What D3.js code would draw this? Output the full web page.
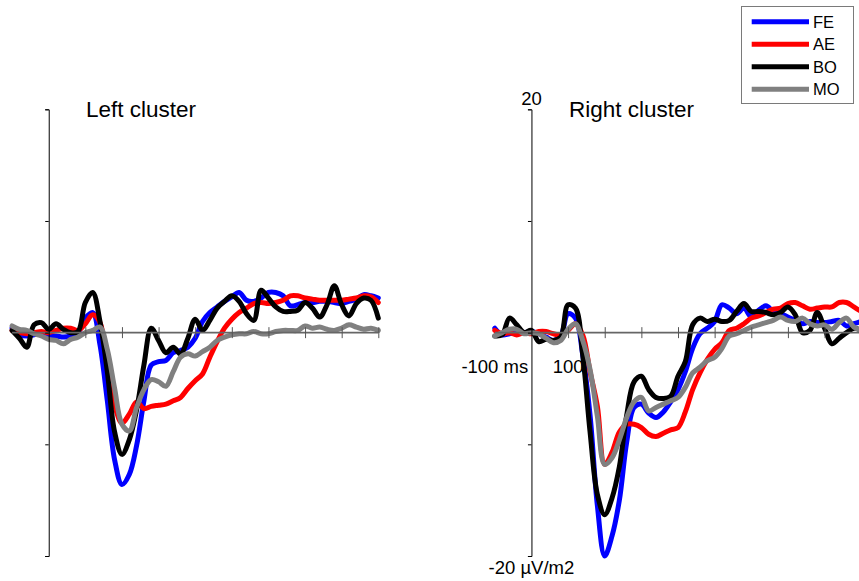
<!DOCTYPE html>
<html lang="en">
<head>
<meta charset="UTF-8" />
<title>Left / right cluster</title>
<style>
  body { margin: 0; background: #fff; }
  svg { display: block; font-family: "Liberation Sans", Arial, sans-serif; }
  .trace { fill: none; stroke-width: 5px; stroke-linejoin: round; stroke-linecap: round; }
  .zero-line { stroke: #666; stroke-width: 1.6px; }
  .x-ticks line { stroke: #555; stroke-width: 1px; }
  .y-axis path, .y-axis line { stroke: #000; stroke-width: 1px; }
  .tick-label { font-size: 18.5px; fill: #000; }
  .panel-title { font-size: 22.5px; fill: #000; }
  .legend text { font-size: 16.5px; fill: #000; }
</style>
</head>
<body>
<svg id="chart" width="859" height="581"></svg>
<script src="https://d3js.org/d3.v7.min.js"></script>
<script>
// sampling grid of the averaged waveforms, in ms
const times = d3.range(-100, 901, 20);

const conditions = ["FE", "AE", "BO", "MO"];
const colors = ["#0000ff", "#ff0000", "#000000", "#808080"];

// µV/m2, left cluster
const leftFE = [0.4, -0.2, -0.3, -0.2, -0.1, -0.3, -0.3, -0.4, -0.3, 0.0,
  1.3, 1.8, -1.1, -6.1, -11.4, -13.6, -12.7, -10.1, -6.1, -2.9,
  -2.6, -2.5, -1.8, -1.6, -1.3, -0.5, 1.0, 1.8, 2.3, 2.8,
  3.2, 3.6, 2.9, 2.8, 3.1, 3.6, 3.6, 3.3, 2.4, 2.5,
  2.7, 2.7, 2.8, 2.8, 2.7, 2.6, 2.8, 3.0, 3.4, 3.3,
  3.1];
const leftAE = [0.2, 0.0, -0.1, 0.0, 0.1, 0.0, 0.2, 0.4, 0.4, 0.2,
  0.8, 1.6, 0.9, -3.0, -6.5, -8.1, -7.3, -6.2, -6.8, -6.6,
  -6.5, -6.4, -6.1, -5.8, -5.0, -4.3, -3.7, -2.2, -0.8, 0.4,
  1.2, 1.8, 2.2, 2.6, 2.7, 2.6, 2.7, 2.9, 3.3, 3.3,
  3.1, 3.0, 2.9, 2.9, 2.9, 2.9, 3.0, 3.1, 3.3, 3.2,
  2.7];
const leftBO = [0.2, -0.5, -1.3, 0.7, 0.9, 0.3, 0.8, 0.3, 0.0, 0.1,
  2.7, 3.6, 1.0, -3.5, -8.9, -10.9, -9.6, -6.9, -2.9, 0.4,
  -0.7, -1.8, -1.3, -1.9, -0.5, 1.2, 0.2, 1.1, 2.2, 2.8,
  3.3, 2.8, 1.7, 1.1, 3.8, 3.1, 2.3, 1.9, 1.9, 2.0,
  2.7, 2.2, 1.4, 2.5, 4.2, 2.5, 1.5, 2.6, 3.1, 2.9,
  1.3];
const leftMO = [0.6, 0.3, 0.2, -0.1, -0.3, -0.6, -0.7, -1.0, -0.6, -0.4,
  0.0, 0.2, 0.5, -1.5, -5.0, -8.2, -8.8, -6.7, -5.1, -4.2,
  -4.4, -4.8, -3.5, -2.2, -1.9, -2.1, -1.7, -1.3, -0.7, -0.4,
  -0.2, -0.1, -0.1, 0.1, -0.1, -0.1, 0.1, 0.2, 0.2, 0.2,
  0.6, 0.4, 0.5, 0.3, 0.2, 0.4, 0.7, 0.5, 0.3, 0.4,
  0.2];

// µV/m2, right cluster
const rightFE = [0.4, -0.2, -0.1, 0.0, 0.0, 0.1, -0.1, -0.4, -0.7, -0.3,
  1.7, 1.3, -2.0, -7.4, -15.5, -20.0, -18.2, -15.0, -9.8, -6.7,
  -6.4, -7.2, -7.6, -7.1, -6.2, -5.1, -3.5, -1.4, -0.1, 0.4,
  1.0, 2.5, 2.2, 1.7, 2.2, 1.4, 2.0, 2.4, 1.9, 1.7,
  1.4, 1.1, 0.8, 1.0, 0.9, 0.9, 1.0, 1.1, 0.6, 0.8,
  1.0];
const rightAE = [0.2, -0.1, 0.0, -0.2, 0.0, -0.1, 0.1, 0.1, -0.1, -0.2,
  0.2, 0.8, -0.2, -3.5, -6.6, -11.8, -10.7, -8.9, -8.2, -8.2,
  -8.5, -9.1, -9.3, -9.0, -8.7, -8.5, -7.1, -5.1, -3.6, -2.4,
  -1.5, -0.9, 0.2, 0.4, 0.8, 1.3, 1.5, 1.8, 2.1, 2.2,
  2.6, 2.7, 2.4, 2.1, 2.2, 2.3, 2.3, 2.7, 2.7, 2.3,
  1.9];
const rightBO = [-0.3, -0.2, 1.3, 0.7, 0.0, 0.2, -0.8, -0.6, -0.7, -0.4,
  2.5, 2.2, -2.0, -8.9, -14.5, -16.3, -14.8, -12.0, -7.4, -4.4,
  -3.9, -5.1, -5.8, -5.9, -5.7, -3.9, -2.6, 0.7, 1.3, 1.0,
  1.2, 1.0, 1.1, 1.9, 2.6, 1.9, 1.9, 1.8, 1.6, 1.8,
  2.3, 1.6, 0.0, 0.2, 1.8, 0.4, -1.0, -0.5, 0.0, 0.4,
  0.2];
const rightMO = [-0.3, 0.0, 0.3, 0.3, -0.1, 0.0, -0.1, -0.5, -0.9, -0.7,
  0.3, 0.8, -0.7, -3.3, -7.5, -11.8, -11.2, -9.6, -7.6, -6.2,
  -5.8, -7.0, -6.7, -6.4, -6.1, -5.8, -4.9, -3.6, -3.1, -2.5,
  -2.2, -1.4, -0.3, -0.1, 0.2, 0.5, 0.7, 0.9, 1.1, 1.4,
  1.1, 1.0, 1.3, 0.8, 0.6, 0.7, 0.3, 0.9, 1.3, 0.5,
  0.2];

const xTicks = [100, 200, 300, 400, 500, 600, 700, 800, 900];
const yTicks = [-20, -10, 0, 10, 20];

const svg = d3.select("#chart");
svg.append("rect").attr("width", 859).attr("height", 581).attr("fill", "#fff");

const y = d3.scaleLinear().domain([-20, 20]).range([556, 109.3]);

const panels = [
  { title: "Left cluster", titleX: 86, range: [12.1, 378.3], series: [leftFE, leftAE, leftBO, leftMO], labelled: false },
  { title: "Right cluster", titleX: 569, range: [494.8, 861.2], series: [rightFE, rightAE, rightBO, rightMO], labelled: true }
];

panels.forEach(p => {
  const x = d3.scaleLinear().domain([-100, 900]).range(p.range);
  const g = svg.append("g");

  // axis labels sit under the traces
  if (p.labelled) {
    const lab = g.append("g").attr("class", "tick-label").attr("text-anchor", "middle");
    lab.append("text").attr("x", x(0)).attr("y", 105).text("20");
    lab.append("text").attr("x", x(0)).attr("y", 573.5).text("-20 µV/m2");
    lab.append("text").attr("x", x(-100)).attr("y", 373).text("-100 ms");
    lab.append("text").attr("x", x(100)).attr("y", 373).text("100");
  }

  const line = d3.line()
    .x((d, i) => x(times[i]))
    .y(d => y(d))
    .curve(d3.curveCatmullRom.alpha(0.5));

  g.append("g")
    .selectAll("path")
    .data(p.series)
    .join("path")
    .attr("class", "trace")
    .attr("stroke", (d, i) => colors[i])
    .attr("d", line);

  // zero line with centred ticks
  g.append("line")
    .attr("class", "zero-line")
    .attr("x1", x(-100)).attr("x2", x(900))
    .attr("y1", y(0)).attr("y2", y(0));

  g.append("g")
    .attr("class", "x-ticks")
    .attr("transform", `translate(0,${y(0) + 5.5})`)
    .call(d3.axisBottom(x).tickValues(xTicks).tickSize(-11).tickFormat(""))
    .call(a => a.select(".domain").remove());

  g.append("g")
    .attr("class", "y-axis")
    .attr("transform", `translate(${x(0)},0)`)
    .call(d3.axisLeft(y).tickValues(yTicks).tickSize(3.5).tickFormat(""));

  g.append("text")
    .attr("class", "panel-title")
    .attr("x", p.titleX).attr("y", 116.7)
    .text(p.title);
});

// legend
const legend = svg.append("g").attr("class", "legend");
legend.append("rect")
  .attr("x", 741.5).attr("y", 6.5)
  .attr("width", 112).attr("height", 97)
  .attr("fill", "#fff").attr("stroke", "#7a7a7a").attr("stroke-width", 1);

const item = legend.selectAll("g.item")
  .data(conditions)
  .join("g")
  .attr("class", "item")
  .attr("transform", (d, i) => `translate(0,${21.7 + i * 22.5})`);

item.append("line")
  .attr("x1", 751.7).attr("x2", 809)
  .attr("stroke", (d, i) => colors[i])
  .attr("stroke-width", 5);

item.append("text")
  .attr("x", 813)
  .attr("dy", "0.36em")
  .text(d => d);
</script>
</body>
</html>
